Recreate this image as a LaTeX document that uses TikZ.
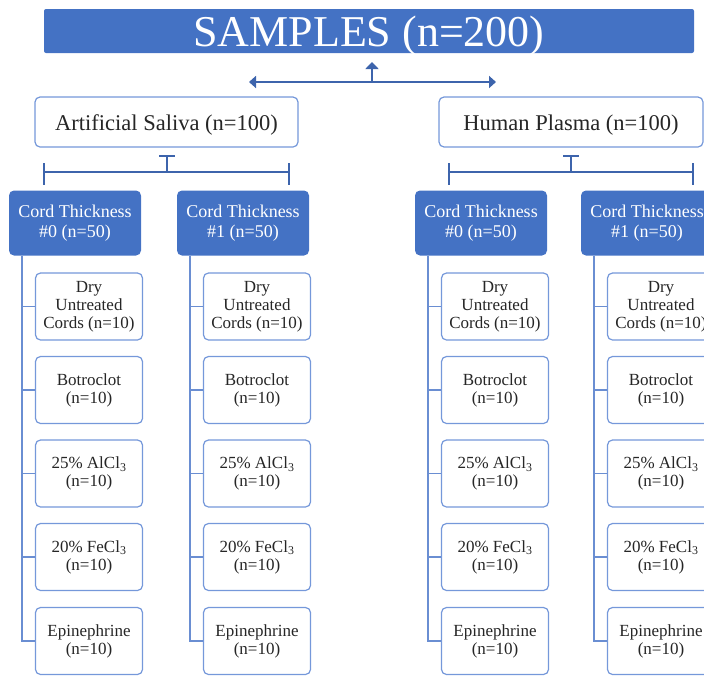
\documentclass[tikz,border=0pt]{standalone}
\usepackage{fontspec}
\setmainfont{Liberation Serif}
\usetikzlibrary{arrows.meta}
\definecolor{boxblue}{HTML}{4472C4}
\definecolor{lineblue}{HTML}{3D64AC}
\definecolor{treeblue}{HTML}{6A8ED2}
\definecolor{edgeblue}{HTML}{7598DA}
\definecolor{txt}{HTML}{262626}
\tikzset{
  titlebox/.style={fill=boxblue, draw=none, rounded corners=2pt, minimum width=650pt, minimum height=44pt, inner sep=0pt, text=white, text height=32pt, text depth=2pt, font=\fontsize{44}{44}\selectfont},
  groupbox/.style={fill=white, draw=edgeblue, line width=1.2pt, rounded corners=5pt, minimum width=263pt, minimum height=50pt, inner sep=0pt, text=txt, text height=17pt, text depth=1pt, font=\fontsize{22.5}{24}\selectfont},
  cordbox/.style={fill=boxblue, draw=none, rounded corners=5pt, minimum width=132pt, minimum height=65pt, inner sep=0pt, text=white, align=center, font=\fontsize{18}{19.5}\selectfont},
  childbox/.style={fill=white, draw=edgeblue, line width=1.2pt, rounded corners=5pt, minimum width=107pt, minimum height=67pt, inner sep=0pt, text=txt, align=center, font=\fontsize{17}{18}\selectfont},
  arrowline/.style={draw=lineblue, line width=2.4pt},
  bracket/.style={draw=lineblue, line width=1.8pt},
  treeline/.style={draw=treeblue, line width=1.5pt},
}
\begin{document}
\begin{tikzpicture}[x=1pt,y=-1pt]
\useasboundingbox (0,0) rectangle (704,675);
\clip (0,0) rectangle (704,675);
\node[titlebox] (title) at (369,31) {SAMPLES (n=200)};
\node[groupbox] (saliva) at (166.5,122) {Artificial Saliva (n=100)};
\node[groupbox, minimum width=264pt] (plasma) at (571,122) {Human Plasma (n=100)};
% arrows
\coordinate (am) at (372,82);
\coordinate (al) at (249,82);
\coordinate (ar) at (496,82);
\coordinate (au) at (372,62);
\draw[arrowline, -{Triangle[length=7pt,width=12pt]}] (am) -- (al);
\draw[arrowline, -{Triangle[length=7pt,width=12pt]}] (am) -- (ar);
\draw[arrowline, line width=2pt, -{Triangle[length=7pt,width=13pt]}] (am) -- (au);
% brackets
\foreach \n/\c/\l/\r in {bl/167/44/289, br/571/449/693}{
  \coordinate (\n top) at (\c,156);
  \coordinate (\n mid) at (\c,172);
  \coordinate (\n L) at (\l,172);
  \coordinate (\n R) at (\r,172);
  \draw[bracket] (\c-8,156) -- (\c+8,156);
  \draw[bracket] (\n top) -- (\n mid);
  \draw[bracket] (\n L) -- (\n R);
  \draw[bracket] (\l,163) -- (\l,185);
  \draw[bracket] (\r,163) -- (\r,185);
}
% cord boxes and children
\foreach \n/\lx/\num in {a/9/0, b/177/1, c/415/0, d/581/1}{
  \node[cordbox] (cord\n) at (\lx+66,223) {Cord Thickness\\\#\num{} (n=50)};
  \node[childbox] (\n1) at (\lx+80,306.5) {Dry\\Untreated\\Cords (n=10)};
  \node[childbox] (\n2) at (\lx+80,390) {Botroclot\\(n=10)};
  \node[childbox] (\n3) at (\lx+80,473.5) {25\% AlCl\textsubscript{3}\\(n=10)};
  \node[childbox] (\n4) at (\lx+80,557) {20\% FeCl\textsubscript{3}\\(n=10)};
  \node[childbox] (\n5) at (\lx+80,641) {Epinephrine\\(n=10)};
  \coordinate (\n top) at (\lx+13,255.5);
  \draw[treeline] (\n top) |- (\n5.west);
  \foreach \k in {1,2,3,4}{
    \draw[treeline] (\n\k.west) -- (\n top |- \n\k.west);
  }
}
\end{tikzpicture}
\end{document}
